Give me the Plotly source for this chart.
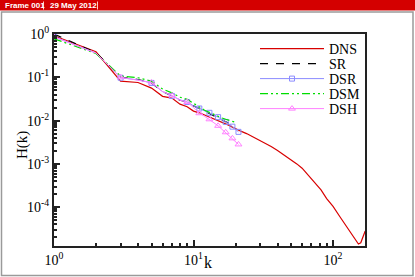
import plotly.graph_objects as go

# ---- data ----
k_dns = [1, 2, 3, 4, 5, 6, 7, 8, 9, 10, 11, 12, 13, 14, 15, 16, 17, 18, 19, 20, 21, 22,
         24, 26, 28, 30, 33, 36, 40, 45, 50, 55, 60, 68, 75, 82, 90, 100, 112, 125,
         135, 145, 152, 158, 164, 170]
logH_dns = [-0.04, -0.41, -1.09, -1.12, -1.25, -1.44, -1.48, -1.62, -1.68, -1.78, -1.82,
            -1.87, -1.92, -1.95, -2.00, -2.04, -2.08, -2.11, -2.15, -2.19, -2.22, -2.25,
            -2.30, -2.36, -2.40, -2.45, -2.52, -2.60, -2.69, -2.80, -2.91, -3.00, -3.10,
            -3.30, -3.45, -3.60, -3.80, -3.98, -4.22, -4.45, -4.60, -4.76, -4.85, -4.82,
            -4.70, -4.55]

k_les = list(range(1, 22))
logH_sr = [0.0, -0.43, -1.00, -1.05, -1.13, -1.33, -1.43, -1.53, -1.57, -1.66, -1.72,
           -1.78, -1.83, -1.88, -1.93, -1.98, -2.02, -2.06, -2.10, -2.14]
logH_dsr = [-0.06, -0.44, -1.01, -1.06, -1.13, -1.33, -1.43, -1.52, -1.57, -1.66, -1.72,
            -1.77, -1.82, -1.87, -1.92, -1.97, -2.03, -2.08, -2.14, -2.20, -2.26]
logH_dsm = [-0.11, -0.45, -0.97, -1.01, -1.09, -1.27, -1.36, -1.46, -1.51, -1.60, -1.70,
            -1.76, -1.81, -1.86, -1.90, -1.94, -1.97, -2.00, -2.02, -2.04]
logH_dsh = [-0.07, -0.44, -1.00, -1.06, -1.12, -1.33, -1.42, -1.53, -1.57, -1.70, -1.83,
            -1.90, -1.97, -2.05, -2.12, -2.20, -2.27, -2.34, -2.41, -2.48, -2.55]

x_tickvals = [1, 10, 100]
x_ticktext = ["10<sup>0</sup>", "10<sup>1</sup>", "10<sup>2</sup>"]
y_tickvals = [1, 1e-1, 1e-2, 1e-3, 1e-4]
y_ticktext = ["10<sup>0</sup>", "10<sup>-1</sup>", "10<sup>-2</sup>", "10<sup>-3</sup>", "10<sup>-4</sup>"]

header_left = "Frame 001"
header_right = "29 May 2012"

# ---- figure ----
W, H = 415, 277
L, R, T, B = 54, 50, 34, 31
PW, PH = W - L - R, H - T - B

def px_x(p):
    return (p - L) / PW

def px_y(p):
    return (H - B - p) / PH

def tolin(v):
    return [10 ** a for a in v]

marker_idx = list(range(0, 21, 2))

fig = go.Figure()
fig.add_trace(go.Scatter(x=k_dns, y=tolin(logH_dns), name="DNS", mode="lines",
                         line=dict(color="#d80000", width=1.2), legend="legend"))
fig.add_trace(go.Scatter(x=k_les[:len(logH_sr)], y=tolin(logH_sr), name="SR", mode="lines",
                         line=dict(color="black", width=1.2, dash="8px,8px"), legend="legend2"))
fig.add_trace(go.Scatter(x=k_les, y=tolin(logH_dsr), name="DSR", mode="lines+markers",
                         line=dict(color="#8c8cff", width=1),
                         marker=dict(symbol="square-open", size=5, color="#8c8cff"),
                         selectedpoints=marker_idx, unselected=dict(marker=dict(opacity=0)),
                         legend="legend3"))
fig.add_trace(go.Scatter(x=k_les[:len(logH_dsm)], y=tolin(logH_dsm), name="DSM", mode="lines",
                         line=dict(color="#00dd00", width=1.2,
                                   dash="8px,3px,2px,3px,2px,3px"), legend="legend4"))
fig.add_trace(go.Scatter(x=k_les, y=tolin(logH_dsh), name="DSH", mode="lines+markers",
                         line=dict(color="#ff80ff", width=1),
                         marker=dict(symbol="triangle-up-open", size=6, color="#ff80ff"),
                         selectedpoints=marker_idx, unselected=dict(marker=dict(opacity=0)),
                         legend="legend5"))

axis_common = dict(type="log", showgrid=False, zeroline=False, showline=True,
                   linecolor="#222222", linewidth=2, mirror=True,
                   ticks="inside", ticklen=6, tickwidth=1.5, tickcolor="#222222",
                   tickfont=dict(family="Liberation Serif", size=14, color="black"))

fig.update_xaxes(range=[0, 2.229], tickvals=x_tickvals, ticktext=x_ticktext,
                 minor=dict(ticks="inside", ticklen=3, tickcolor="#222222",
                            tickvals=[2, 3, 4, 5, 6, 7, 8, 9, 20, 30, 40, 50, 60, 70, 80, 90]),
                 **axis_common)
yminor = []
for e in [-5, -4, -3, -2, -1]:
    for m in range(2, 10):
        yminor.append(m * 10 ** e)
fig.update_yaxes(range=[-4.896, 0], tickvals=y_tickvals, ticktext=y_ticktext,
                 minor=dict(ticks="inside", ticklen=3, tickcolor="#222222", tickvals=yminor),
                 **axis_common)

shapes = [
    dict(type="rect", xref="paper", yref="paper",
         x0=px_x(1.5), x1=px_x(413), y0=px_y(275.5), y1=px_y(12),
         line=dict(color="#9a9a9a", width=1.5), fillcolor="rgba(0,0,0,0)", layer="below"),
    dict(type="rect", xref="paper", yref="paper",
         x0=px_x(0), x1=px_x(415), y0=px_y(10.5), y1=px_y(0),
         line=dict(width=0), fillcolor="#d40000", layer="below"),
    dict(type="line", xref="paper", yref="paper",
         x0=px_x(43.5), x1=px_x(43.5), y0=px_y(9.5), y1=px_y(1.5),
         line=dict(color="#ffc8c8", width=1), layer="above"),
    dict(type="line", xref="paper", yref="paper",
         x0=px_x(97.5), x1=px_x(97.5), y0=px_y(9.5), y1=px_y(1.5),
         line=dict(color="#ffc8c8", width=1), layer="above"),
]

annotations = [
    dict(text=header_left, xref="paper", yref="paper", x=px_x(3), y=px_y(5.5),
         xanchor="left", yanchor="middle", showarrow=False,
         font=dict(family="Liberation Sans", size=8, color="white", weight="bold")),
    dict(text=header_right, xref="paper", yref="paper", x=px_x(48), y=px_y(5.5),
         xanchor="left", yanchor="middle", showarrow=False,
         font=dict(family="Liberation Sans", size=8, color="white", weight="bold")),
    dict(text="H(k)", xref="paper", yref="paper", x=px_x(22), y=px_y(145),
         xanchor="center", yanchor="middle", showarrow=False, textangle=-90,
         font=dict(family="Liberation Serif", size=15, color="black")),
    dict(text="k", xref="paper", yref="paper", x=px_x(208), y=px_y(262),
         xanchor="center", yanchor="middle", showarrow=False,
         font=dict(family="Liberation Serif", size=16, color="black")),
]

leg_rows = [49, 64, 79, 94, 109]
leg_common = dict(xanchor="left", yanchor="middle", bgcolor="rgba(0,0,0,0)", borderwidth=0,
                  itemwidth=64, font=dict(family="Liberation Serif", size=14, color="black"))
legends = {}
for i, yy in enumerate(leg_rows):
    key = "legend" if i == 0 else f"legend{i + 1}"
    legends[key] = dict(x=px_x(255), y=px_y(yy), **leg_common)

fig.update_layout(
    width=W, height=H, margin=dict(l=L, r=R, t=T, b=B, autoexpand=False),
    paper_bgcolor="white", plot_bgcolor="white",
    shapes=shapes, annotations=annotations,
    showlegend=True,
    **legends,
)

fig.write_html("out.html", config={"displayModeBar": False},
               post_script="document.body.style.margin='0px';document.body.style.overflow='hidden';")
